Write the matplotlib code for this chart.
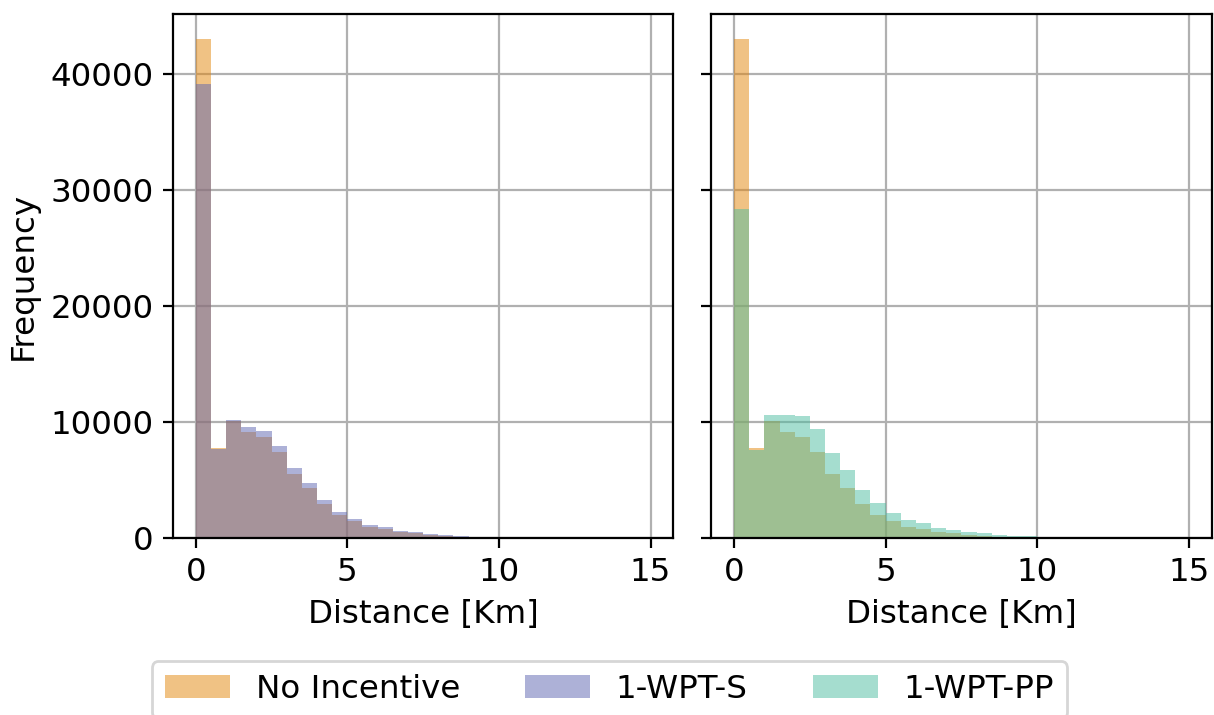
import numpy as np
import matplotlib
matplotlib.use('Agg')
import matplotlib.pyplot as plt

# bin edges: 0 .. 15 km, 0.5 km wide
edges = np.arange(0, 15.5, 0.5)
centers = (edges[:-1] + edges[1:]) / 2

no_incentive = [43000, 7750, 10050, 9130, 8700, 7400, 5490, 4280, 2890, 1940,
                1420, 900, 720, 460, 380, 270, 180, 100, 50, 20,
                0, 0, 0, 0, 0, 0, 0, 0, 0, 0]
wpt_s = [39140, 7660, 10170, 9570, 9220, 7920, 6010, 4710, 3270, 2200,
         1590, 1070, 900, 550, 460, 290, 200, 120, 100, 30,
         0, 0, 0, 0, 0, 0, 0, 0, 0, 0]
wpt_pp = [28380, 7570, 10600, 10600, 10520, 9390, 7310, 5840, 4100, 2980,
          2110, 1500, 1240, 810, 640, 460, 380, 200, 170, 120,
          90, 0, 0, 0, 0, 0, 0, 0, 0, 0]

c_none = '#e3860b'
c_s = '#5d65b1'
c_pp = '#4dbda1'

plt.rcParams['font.size'] = 11.7

fig, (ax1, ax2) = plt.subplots(1, 2, figsize=(6.07, 3.575), dpi=200, sharey=True)
fig.subplots_adjust(left=0.1425, right=0.998, top=0.980, bottom=0.248, wspace=0.076)

ax1.hist(centers, bins=edges, weights=no_incentive, color=c_none, alpha=0.5, label='No Incentive')
ax1.hist(centers, bins=edges, weights=wpt_s, color=c_s, alpha=0.5, label='1-WPT-S')
ax2.hist(centers, bins=edges, weights=no_incentive, color=c_none, alpha=0.5)
ax2.hist(centers, bins=edges, weights=wpt_pp, color=c_pp, alpha=0.5, label='1-WPT-PP')

for ax in (ax1, ax2):
    ax.grid(True)
    ax.set_axisbelow(True)
    ax.set_xlabel('Distance [Km]')
    ax.set_xticks([0, 5, 10, 15])
ax1.set_ylabel('Frequency')
ax1.set_yticks([0, 10000, 20000, 30000, 40000])

h1, l1 = ax1.get_legend_handles_labels()
h2, l2 = ax2.get_legend_handles_labels()
fig.legend(h1 + h2, l1 + l2, loc='upper center', bbox_to_anchor=(0.502, 0.098), ncol=3)

plt.savefig('out.png', dpi=200)
